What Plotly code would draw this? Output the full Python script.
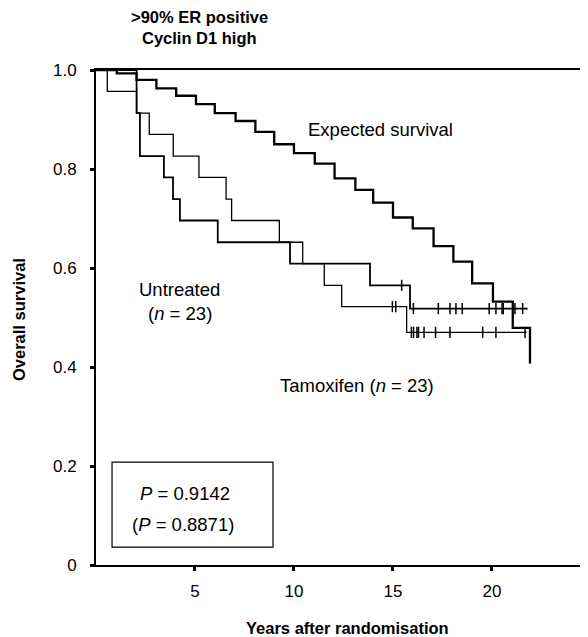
import plotly.graph_objects as go

# ---------------- data ----------------
# Expected survival: step times (years) and survival after each step
exp_t = [0, 1.05, 2.05, 3.05, 4.05, 5.05, 6.0, 7.05, 8.05, 9.0, 10.0, 11.05, 12.05,
         13.1, 14.0, 15.0, 16.0, 17.05, 18.05, 19.0, 20.05, 21.05, 21.92]
exp_s = [1.0, 0.993, 0.980, 0.963, 0.948, 0.931, 0.913, 0.897, 0.875, 0.850, 0.832, 0.811, 0.781,
         0.758, 0.732, 0.702, 0.680, 0.644, 0.613, 0.569, 0.532, 0.479, 0.407]

# Kaplan-Meier curve A (thin line, ends lower)
a_t = [0, 0.57, 2.05, 2.69, 3.90, 5.20, 6.57, 6.85, 9.26, 10.44, 11.53, 12.41, 15.69, 21.75]
a_s = [1.0, 0.957, 0.913, 0.870, 0.826, 0.783, 0.739, 0.696, 0.652, 0.609, 0.565, 0.522, 0.470, 0.470]
a_cens_t = [14.97, 15.14, 15.93, 16.04, 16.21, 16.29, 16.57, 17.15, 17.88, 19.53, 20.20, 21.67]
a_cens_s = [0.522, 0.522, 0.470, 0.470, 0.470, 0.470, 0.470, 0.470, 0.470, 0.470, 0.470, 0.470]

# Kaplan-Meier curve B (thicker line, ends higher)
b_t = [0, 2.05, 2.22, 3.43, 3.89, 4.24, 6.15, 9.80, 13.84, 15.86, 21.80]
b_s = [1.0, 0.913, 0.826, 0.783, 0.739, 0.696, 0.652, 0.609, 0.565, 0.518, 0.518]
b_cens_t = [15.44, 16.03, 17.29, 17.88, 18.18, 18.50, 19.86, 20.20, 20.51, 20.57, 21.16, 21.55]
b_cens_s = [0.565, 0.518, 0.518, 0.518, 0.518, 0.518, 0.518, 0.518, 0.518, 0.518, 0.518, 0.518]

x_ticks = [5, 10, 15, 20]
y_ticks = [0, 0.2, 0.4, 0.6, 0.8, 1.0]
y_tick_text = ["0", "0.2", "0.4", "0.6", "0.8", "1.0"]

FONT = "Liberation Sans, Arial, Helvetica, sans-serif"
ANN = 18.5

fig = go.Figure()

fig.add_trace(go.Scatter(x=exp_t, y=exp_s, mode="lines", line=dict(shape="hv", color="black", width=2.3),
                         showlegend=False, hoverinfo="skip"))
fig.add_trace(go.Scatter(x=a_t, y=a_s, mode="lines", line=dict(shape="hv", color="black", width=1.3),
                         showlegend=False, hoverinfo="skip"))
fig.add_trace(go.Scatter(x=b_t, y=b_s, mode="lines", line=dict(shape="hv", color="black", width=1.8),
                         showlegend=False, hoverinfo="skip"))
fig.add_trace(go.Scatter(x=a_cens_t, y=a_cens_s, mode="markers",
                         marker=dict(symbol="line-ns", size=8, line=dict(color="black", width=1.5)),
                         showlegend=False, hoverinfo="skip"))
fig.add_trace(go.Scatter(x=b_cens_t, y=b_cens_s, mode="markers",
                         marker=dict(symbol="line-ns", size=8, line=dict(color="black", width=1.5)),
                         showlegend=False, hoverinfo="skip"))

annots = [
    dict(x=14.39, y=0.879, text="Expected survival"),
    dict(x=4.24, y=0.556, text="Untreated"),
    dict(x=4.24, y=0.509, text="(<i>n</i> = 23)"),
    dict(x=13.18, y=0.362, text="Tamoxifen (<i>n</i> = 23)"),
    dict(x=4.5, y=0.145, text="<i>P</i> = 0.9142"),
    dict(x=4.4, y=0.081, text="(<i>P</i> = 0.8871)"),
]
for a in annots:
    fig.add_annotation(xref="x", yref="y", showarrow=False, xanchor="center", yanchor="middle",
                       font=dict(size=ANN), **a)

# title lines and axis titles (paper coordinates; plot area is 491 x 495 px)
def px_x(p):
    return (p - 96) / 491

def px_y(p):
    return (565 - p) / 495

for txt, yy in [("<b>&gt;90% ER positive</b>", 17), ("<b>Cyclin D1 high</b>", 38)]:
    fig.add_annotation(xref="paper", yref="paper", x=px_x(199), y=px_y(yy), text=txt,
                       showarrow=False, font=dict(size=16.5), xanchor="center", yanchor="middle")

fig.add_annotation(xref="paper", yref="paper", x=px_x(347), y=px_y(628),
                   text="<b>Years after randomisation</b>", showarrow=False, font=dict(size=16.5),
                   xanchor="center", yanchor="middle")
fig.add_annotation(xref="paper", yref="paper", x=px_x(19), y=px_y(320),
                   text="<b>Overall survival</b>", showarrow=False, font=dict(size=16.5),
                   textangle=-90, xanchor="center", yanchor="middle")

fig.add_shape(type="rect", xref="x", yref="y", x0=0.81, x1=8.94, y0=0.036, y1=0.208,
              line=dict(color="black", width=1.2))

# page body adds an 8 px offset, so the figure is 8 px smaller than the window
fig.update_layout(
    width=580, height=629,
    margin=dict(l=88, r=1, t=62, b=72),
    paper_bgcolor="white", plot_bgcolor="white",
    font=dict(family=FONT, color="black", size=17),
    xaxis=dict(range=[0, 24.8], tickvals=x_ticks, showline=True, linewidth=2, linecolor="black",
               mirror=True, ticks="outside", ticklen=4, tickwidth=3, tickcolor="black",
               showgrid=False, zeroline=False, ticklabelstandoff=6, tickfont=dict(size=17)),
    yaxis=dict(range=[0, 1], tickvals=y_ticks, ticktext=y_tick_text, showline=True, linewidth=2,
               linecolor="black", ticks="outside", ticklen=4, tickwidth=3, tickcolor="black",
               showgrid=False, zeroline=False, ticklabelstandoff=10, tickfont=dict(size=17)),
)

fig.write_html("out.html")
